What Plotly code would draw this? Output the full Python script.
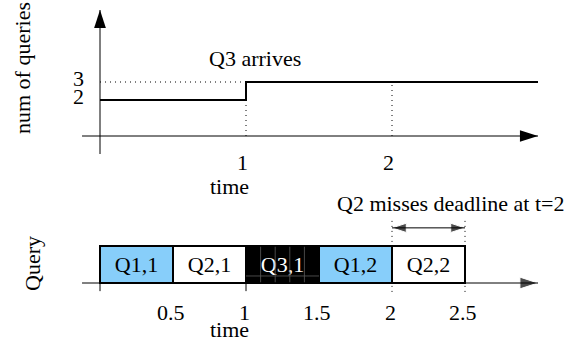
import plotly.graph_objects as go

# ---------------- data ----------------
times = [0, 1, 3]            # instants where the number of queries changes / ends
num_queries = [2, 3, 3]      # number of active queries
top_xticks = [1, 2]
top_xtick_labels = ["1", "2"]
top_yticks = [2, 3]
top_ytick_labels = ["2", "3"]
arrival_time = 1             # Q3 arrives

jobs = ["Q1,1", "Q2,1", "Q3,1", "Q1,2", "Q2,2"]
job_query = ["Q1", "Q2", "Q3", "Q1", "Q2"]
job_start = [0, 0.5, 1, 1.5, 2]
job_len = [0.5, 0.5, 0.5, 0.5, 0.5]
bottom_xticks = [0.5, 1, 1.5, 2, 2.5]
bottom_xtick_labels = ["0.5", "1", "1.5", "2", "2.5"]
bottom_marks = [0, 1]        # small tick marks under the schedule axis
deadline_window = [2, 2.5]   # Q2 misses deadline at t=2

# ---------------- style ----------------
FONT = "'Liberation Serif', 'Times New Roman', serif"
FS = 22
query_fill = {"Q1": "#87cefa", "Q2": "#ffffff", "Q3": "#000000"}
query_text = {"Q1": "#000000", "Q2": "#000000", "Q3": "#ffffff"}

X_RANGE = [-100 / 146, 475 / 146]
YT_RANGE = [(136 - 341) / 18, 136 / 18]
YB_RANGE = [(283 - 341) / 37, 283 / 37]
AX_START = -0.123
T_END = times[-1]
Y_TOP_TIP = 7
Y_TOP_BOTTOM = -1

fig = go.Figure()

# step curve
fig.add_trace(go.Scatter(x=times, y=num_queries, mode="lines", line_shape="hv",
                         line=dict(color="black", width=2), xaxis="x", yaxis="y",
                         hoverinfo="skip", showlegend=False))

# schedule bars
fig.add_trace(go.Bar(orientation="h", y=[0.5] * len(jobs), x=job_len, base=job_start,
                     width=1, text=jobs, textposition="inside", insidetextanchor="middle",
                     textangle=0, constraintext="none",
                     textfont=dict(family=FONT, size=FS, color=[query_text[q] for q in job_query]),
                     marker=dict(color=[query_fill[q] for q in job_query],
                                 line=dict(color="black", width=2)),
                     xaxis="x", yaxis="y2", hoverinfo="skip", showlegend=False))

shapes = []
def line(x0, y0, x1, y1, yref, width=1, dash=None, color="black"):
    d = dict(type="line", xref="x", yref=yref, x0=x0, y0=y0, x1=x1, y1=y1,
             line=dict(color=color, width=width))
    if dash:
        d["line"]["dash"] = dash
    shapes.append(d)

DOT = "1px,4px"
# top axes
line(AX_START, 0, T_END, 0, "y")
line(0, Y_TOP_BOTTOM, 0, Y_TOP_TIP, "y")
# dotted guides
line(0, num_queries[1], arrival_time, num_queries[1], "y", dash=DOT)
line(arrival_time, 0, arrival_time, num_queries[0], "y", dash=DOT)
line(top_xticks[1], 0, top_xticks[1], num_queries[-1], "y", dash=DOT)
# bottom axis
line(AX_START, 0, T_END, 0, "y2")
for m in bottom_marks:
    line(m, 0, m, -0.22, "y2")
for d in deadline_window:
    line(d, -0.24, d, 1.76, "y2", dash=DOT)
line(deadline_window[0], 1.49, deadline_window[1], 1.49, "y2")
# faint grid pattern inside the black bar
q3 = job_query.index("Q3")
for k in range(1, 5):
    xx = job_start[q3] + job_len[q3] * k * 0.2
    line(xx, 0.02, xx, 0.98, "y2", color="#5a5a5a", width=0.8)
line(job_start[q3], 0.19, job_start[q3] + job_len[q3], 0.19, "y2", color="#5a5a5a", width=0.8)

# arrow heads
fig.add_trace(go.Scatter(x=[T_END, 0], y=[0, Y_TOP_TIP], mode="markers", xaxis="x", yaxis="y",
                         marker=dict(symbol="arrow", size=19, angle=[90, 0], color="black"),
                         hoverinfo="skip", showlegend=False))
fig.add_trace(go.Scatter(x=[T_END, deadline_window[0], deadline_window[1]], y=[0, 1.49, 1.49],
                         mode="markers", xaxis="x", yaxis="y2",
                         marker=dict(symbol="arrow", size=[19, 15, 15], angle=[90, 270, 90], color="black"),
                         hoverinfo="skip", showlegend=False))

ann = []
def text(t, x, y, yref, xshift=0, yshift=0, angle=0, xref="x"):
    ann.append(dict(text=t, x=x, y=y, xref=xref, yref=yref, xshift=xshift, yshift=yshift,
                    showarrow=False, textangle=angle, xanchor="center", yanchor="middle",
                    font=dict(family=FONT, size=FS, color="black")))

for v, s in zip(top_yticks, top_ytick_labels):
    text(s, 0, v, "y", xshift=-22, yshift=4)
for v, s in zip(top_xticks, top_xtick_labels):
    text(s, v, 0, "y", xshift=-4, yshift=-26.5)
text("time", 1, 0, "y", xshift=-17, yshift=-50)
text("Q3 arrives", arrival_time, num_queries[1], "y", xshift=9, yshift=24)
text("num of queries", 22 / 575, 1 - 68 / 341, "paper", angle=-90, xref="paper")

for v, s in zip(bottom_xticks, bottom_xtick_labels):
    text(s, v, 0, "y2", xshift=-2, yshift=-29.5)
text("time", 1, 0, "y2", xshift=-17, yshift=-46)
text("Query", 32 / 575, 1 - 264 / 341, "paper", angle=-90, xref="paper")
text("Q2 misses deadline at t=2", sum(deadline_window) / 2, 1.49, "y2", xshift=21.5, yshift=24)

fig.update_layout(
    width=575, height=341, margin=dict(l=0, r=0, t=0, b=0, pad=0),
    paper_bgcolor="white", plot_bgcolor="white",
    xaxis=dict(range=X_RANGE, visible=False, domain=[0, 1], fixedrange=True),
    yaxis=dict(range=YT_RANGE, visible=False, domain=[0, 1], fixedrange=True),
    yaxis2=dict(range=YB_RANGE, visible=False, overlaying="y", fixedrange=True),
    shapes=shapes, annotations=ann, showlegend=False,
)

fig.write_html("out.html", config={"displayModeBar": False},
               post_script="document.body.style.margin='0';")
